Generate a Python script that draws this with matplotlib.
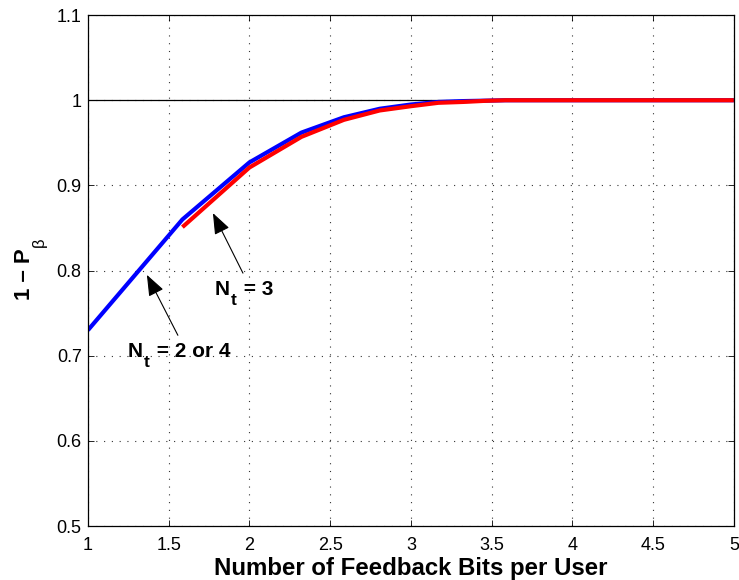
import numpy as np
import matplotlib.pyplot as plt

plt.rcParams.update({
    'font.family': ['Liberation Sans', 'DejaVu Sans'],
})

# --- datos ---
bits_24 = [1.0, 1.585, 2.0, 2.322, 2.585, 2.807, 3.0, 3.170, 3.322, 3.459,
           3.585, 3.807, 4.0, 4.322, 4.585, 4.807, 5.0]
prob_24 = [0.730, 0.860, 0.927, 0.962, 0.980, 0.990, 0.995, 0.998, 0.999, 0.9995,
           1.0, 1.0, 1.0, 1.0, 1.0, 1.0, 1.0]
bits_3 = [1.585, 2.0, 2.322, 2.585, 2.807, 3.0, 3.170, 3.322, 3.459,
          3.585, 3.807, 4.0, 4.322, 4.585, 4.807, 5.0]
prob_3 = [0.851, 0.921, 0.957, 0.977, 0.988, 0.993, 0.997, 0.998, 0.9993,
          1.0, 1.0, 1.0, 1.0, 1.0, 1.0, 1.0]
ref_x = [1, 5]
ref_y = [1, 1]

xticks = [1, 1.5, 2, 2.5, 3, 3.5, 4, 4.5, 5]
xticklabels = ['1', '1.5', '2', '2.5', '3', '3.5', '4', '4.5', '5']
yticks = [0.5, 0.6, 0.7, 0.8, 0.9, 1.0, 1.1]
yticklabels = ['0.5', '0.6', '0.7', '0.8', '0.9', '1', '1.1']

fig = plt.figure(figsize=(7.39, 5.80), dpi=100)
ax = fig.add_axes([0.119, 0.093, 0.874, 0.881])

ax.plot(ref_x, ref_y, color='black', lw=0.9)
ax.plot(bits_24, prob_24, color='#0000ff', lw=3, solid_capstyle='butt')
ax.plot(bits_3, prob_3, color='#ff0000', lw=3, solid_capstyle='butt')

ax.set_xlim(1, 5); ax.set_ylim(0.5, 1.1)
ax.set_xticks(xticks); ax.set_xticklabels(xticklabels)
ax.set_yticks(yticks); ax.set_yticklabels(yticklabels)
ax.tick_params(direction='in', top=True, right=True, labelsize=13, length=4, width=0.6)
ax.tick_params(axis='x', pad=8)
ax.tick_params(axis='y', pad=4.5)
ax.grid(True, ls=(0, (1, 6)), color='#333333', lw=0.8)
for s in ax.spines.values():
    s.set_linewidth(0.9)

ax.set_xlabel('Number of Feedback Bits per User', fontsize=17.3, fontweight='bold')
ax.xaxis.label.set_va('baseline')
ax.xaxis.set_label_coords(0.5, -49 / 511)

# flechas
arr = dict(arrowstyle='-|>,head_length=1.3,head_width=0.5', color='black', lw=0.8,
           shrinkA=0, shrinkB=0)
ax.annotate('', xy=(1.774, 0.8675), xytext=(1.96, 0.797), arrowprops=arr)
ax.annotate('', xy=(1.365, 0.795), xytext=(1.557, 0.724), arrowprops=arr)

# textos con subindice grande (estilo MATLAB), armados por partes
fig.canvas.draw()
rend = fig.canvas.get_renderer()

def texto_sub(xy, base, sub, rest, coords='data', rot=0, size=15, ssize=12.5,
              drop=10, sub_bold=True):
    kw = dict(xycoords=coords, textcoords='offset pixels', rotation=rot,
              rotation_mode='anchor', ha='left', va='baseline')
    t1 = ax.annotate(base, xy=xy, xytext=(0, 0), fontsize=size, fontweight='bold', **kw)
    w1 = t1.get_window_extent(rend)
    w1 = w1.height if rot else w1.width
    t2 = ax.annotate(sub, xy=xy, xytext=(0, 0), fontsize=ssize,
                     fontweight='bold' if sub_bold else 'normal', **kw)
    w2 = t2.get_window_extent(rend)
    w2 = w2.height if rot else w2.width
    if rot:
        t2.xyann = (drop, w1 + 1)
    else:
        t2.xyann = (w1 + 1, -drop)
    if rest:
        ax.annotate(rest, xy=xy, xytext=(w1 + w2 + 2, 0), fontsize=size,
                    fontweight='bold', **kw)

texto_sub((1.786, 0.7712), 'N', 't', ' = 3')
texto_sub((1.248, 0.6985), 'N', 't', ' = 2 or 4')
# etiqueta del eje y
texto_sub((-58 / 646, 0.442), '1 \u2013 P', '\u03b2', '', coords='axes fraction',
          rot=90, size=16, ssize=12, drop=14, sub_bold=False)

fig.savefig('out.png', dpi=100)
